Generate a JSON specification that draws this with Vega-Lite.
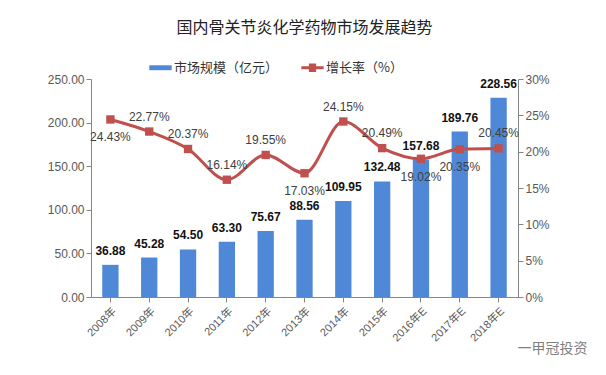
{
  "$schema": "https://vega.github.io/schema/vega-lite/v6.json",
  "width": 427,
  "height": 218,
  "autosize": {"type": "none"},
  "padding": {"left": 91, "top": 79, "right": 88, "bottom": 78},
  "background": "white",
  "title": {
    "text": "国内骨关节炎化学药物市场发展趋势",
    "fontSize": 16,
    "fontWeight": "normal",
    "font": "Noto Sans CJK SC",
    "color": "#222222",
    "anchor": "middle",
    "offset": 20
  },
  "config": {
    "font": "Liberation Sans, Noto Sans CJK SC",
    "view": {"stroke": null},
    "axis": {
      "labelColor": "#595959",
      "labelFontSize": 12,
      "domainColor": "#868686",
      "tickColor": "#868686",
      "grid": false,
      "labelFont": "Liberation Sans, Noto Sans CJK SC"
    }
  },
  "data": {
    "values": [
      {"year": "2008年", "size": 36.88, "growth": 0.2443},
      {"year": "2009年", "size": 45.28, "growth": 0.2277},
      {"year": "2010年", "size": 54.50, "growth": 0.2037},
      {"year": "2011年", "size": 63.30, "growth": 0.1614},
      {"year": "2012年", "size": 75.67, "growth": 0.1955},
      {"year": "2013年", "size": 88.56, "growth": 0.1703},
      {"year": "2014年", "size": 109.95, "growth": 0.2415},
      {"year": "2015年", "size": 132.48, "growth": 0.2049},
      {"year": "2016年E", "size": 157.68, "growth": 0.1902},
      {"year": "2017年E", "size": 189.76, "growth": 0.2035},
      {"year": "2018年E", "size": 228.56, "growth": 0.2045}
    ]
  },
  "encoding": {
    "x": {
      "field": "year",
      "type": "ordinal",
      "sort": null,
      "scale": {"paddingInner": 0.58, "paddingOuter": 0.29},
      "axis": {
        "title": "一甲冠投资",
        "titleColor": "#808080",
        "titleFontSize": 14,
        "titleFontWeight": "normal",
        "titleFont": "Noto Sans CJK SC",
        "titleAnchor": "start",
        "titleAlign": "left",
        "titleX": 426,
        "titleY": 44,
        "labelAngle": -45,
        "labelFontSize": 11,
        "labelPadding": 3,
        "tickSize": 5
      }
    }
  },
  "layer": [
    {
      "layer": [
        {
          "mark": {"type": "bar"},
          "encoding": {
            "y": {
              "field": "size",
              "type": "quantitative",
              "scale": {"domain": [0, 250], "nice": false},
              "axis": {
                "title": null,
                "values": [0, 50, 100, 150, 200, 250],
                "format": ".2f",
                "tickSize": 5
              }
            },
            "color": {
              "datum": "市场规模（亿元）",
              "type": "nominal",
              "scale": {
                "domain": ["市场规模（亿元）", "增长率（%）"],
                "range": ["#4F88D6", "#C0504D"]
              },
              "legend": {
                "title": null,
                "orient": "none",
                "legendX": 58,
                "legendY": -23,
                "direction": "horizontal",
                "labelFontSize": 13,
                "labelColor": "#333333",
                "labelFont": "Noto Sans CJK SC",
                "symbolSize": 500,
                "columnPadding": 22,
                "labelOffset": 2,
                "encode": {
                  "symbols": {
                    "update": {
                      "shape": {"signal": "datum.value === '增长率（%）' ? 'M-1,-0.13H-0.32V-0.38H0.32V-0.13H1V0.13H0.32V0.38H-0.32V0.13H-1Z' : 'M-1,-0.22H1V0.22H-1Z'"},
                      "fill": {"signal": "datum.value === '增长率（%）' ? '#C0504D' : '#4F88D6'"},
                      "strokeWidth": {"value": 0},
                      "opacity": {"value": 1},
                      "fillOpacity": {"value": 1}
                    }
                  }
                }
              }
            }
          }
        },
        {
          "mark": {"type": "text", "baseline": "bottom", "dy": -7, "fontWeight": "bold", "fontSize": 12, "color": "#111111"},
          "encoding": {
            "y": {"field": "size", "type": "quantitative"},
            "text": {"field": "size", "type": "quantitative", "format": ".2f"}
          }
        }
      ]
    },
    {
      "encoding": {
        "y": {
          "field": "growth",
          "type": "quantitative",
          "scale": {"domain": [0, 0.3], "nice": false},
          "axis": {
            "orient": "right",
            "title": null,
            "values": [0, 0.05, 0.1, 0.15, 0.2, 0.25, 0.3],
            "format": ".0%",
            "labelOverlap": false,
            "tickSize": 5
          }
        }
      },
      "layer": [
        {
          "mark": {"type": "line", "interpolate": "monotone", "strokeWidth": 3, "point": {"shape": "square", "size": 70, "filled": true, "color": "#C0504D"}},
          "encoding": {
            "color": {"datum": "增长率（%）", "type": "nominal"}
          }
        },
        {
          "transform": [{"filter": {"not": {"field": "year", "oneOf": ["2008年", "2013年", "2016年E", "2017年E"]}}}],
          "mark": {"type": "text", "baseline": "middle", "dy": -15, "fontSize": 12, "color": "#404040"},
          "encoding": {
            "text": {"field": "growth", "type": "quantitative", "format": ".2%"}
          }
        },
        {
          "transform": [{"filter": {"field": "year", "oneOf": ["2008年", "2013年", "2016年E", "2017年E"]}}],
          "mark": {"type": "text", "baseline": "middle", "dy": 18, "fontSize": 12, "color": "#404040"},
          "encoding": {
            "text": {"field": "growth", "type": "quantitative", "format": ".2%"}
          }
        }
      ]
    }
  ],
  "resolve": {"scale": {"y": "independent"}}
}
